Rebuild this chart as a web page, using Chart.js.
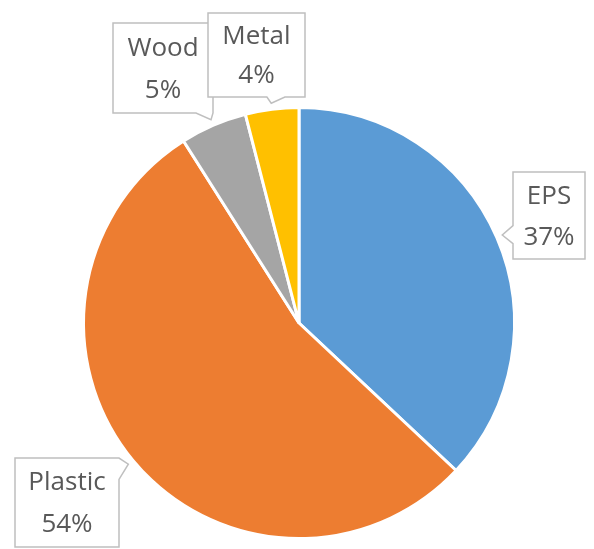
<!DOCTYPE html>
<html lang="en">
<head>
    <meta charset="UTF-8">
    <title>Material share</title>
    <script src="https://cdn.jsdelivr.net/npm/chart.js"></script>
    <style>
        * { margin: 0; padding: 0; box-sizing: border-box; }
        body { background: #fff; width: 594px; height: 549px; overflow: hidden; }
        #wrap { position: relative; width: 594px; height: 549px; }
    </style>
</head>
<body>
    <div id="wrap"><canvas id="pieChart" width="594" height="549"></canvas></div>

    <script>
        // Materials and their share (%)
        var materials = ['EPS', 'Plastic', 'Wood', 'Metal'];
        var shares = [37, 54, 5, 4];
        var sliceColors = ['#5B9BD5', '#ED7D31', '#A5A5A5', '#FFC000'];

        // Callout boxes: box rectangle plus which side the pointer leaves from
        var callouts = [
            { box: [513, 172, 72, 87], side: 'left',   at: 0.72 },
            { box: [15, 458, 104, 89], side: 'right',  at: 0.05 },
            { box: [113, 23, 100, 90], side: 'bottom', at: 0.92 },
            { box: [208, 13, 97, 84],  side: 'bottom', at: 0.70 }
        ];

        var calloutPlugin = {
            id: 'callouts',
            afterDraw: function (chart) {
                var ctx = chart.ctx;
                var meta = chart.getDatasetMeta(0);
                ctx.save();
                meta.data.forEach(function (arc, i) {
                    var c = callouts[i];
                    var x = c.box[0], y = c.box[1], w = c.box[2], h = c.box[3];
                    // tip of the pointer sits just outside the slice edge
                    var mid = (arc.startAngle + arc.endAngle) / 2;
                    var r = arc.outerRadius + 6;
                    var tx = arc.x + Math.cos(mid) * r;
                    var ty = arc.y + Math.sin(mid) * r;
                    var s = 9;
                    ctx.beginPath();
                    if (c.side === 'left') {
                        var py = y + h * c.at;
                        ctx.moveTo(x, y);
                        ctx.lineTo(x + w, y);
                        ctx.lineTo(x + w, y + h);
                        ctx.lineTo(x, y + h);
                        ctx.lineTo(x, py + s);
                        ctx.lineTo(tx, ty);
                        ctx.lineTo(x, py - s);
                    } else if (c.side === 'right') {
                        var py2 = y + h * c.at;
                        ctx.moveTo(x, y);
                        ctx.lineTo(x + w, y);
                        ctx.lineTo(tx, ty);
                        ctx.lineTo(x + w, py2 + s + 8);
                        ctx.lineTo(x + w, y + h);
                        ctx.lineTo(x, y + h);
                    } else {
                        var px = x + w * c.at;
                        ctx.moveTo(x, y);
                        ctx.lineTo(x + w, y);
                        ctx.lineTo(x + w, y + h);
                        ctx.lineTo(Math.min(px + s, x + w), y + h);
                        ctx.lineTo(tx, ty);
                        ctx.lineTo(px - s, y + h);
                        ctx.lineTo(x, y + h);
                    }
                    ctx.closePath();
                    ctx.fillStyle = '#fff';
                    ctx.fill();
                    ctx.strokeStyle = '#BFBFBF';
                    ctx.lineWidth = 1.5;
                    ctx.stroke();

                    ctx.fillStyle = '#595959';
                    ctx.font = '26px "Open Sans", sans-serif';
                    ctx.textAlign = 'center';
                    ctx.textBaseline = 'middle';
                    ctx.fillText(chart.data.labels[i], x + w / 2, y + h * 0.28);
                    ctx.fillText(chart.data.datasets[0].data[i] + '%', x + w / 2, y + h * 0.75);
                });
                ctx.restore();
            }
        };

        var ctx = document.getElementById('pieChart').getContext('2d');
        var pieChart = new Chart(ctx, {
            type: 'pie',
            data: {
                labels: materials,
                datasets: [{
                    data: shares,
                    backgroundColor: sliceColors,
                    borderColor: '#ffffff',
                    borderWidth: 3
                }]
            },
            options: {
                responsive: false,
                animation: false,
                layout: { padding: { left: 82, right: 78, top: 106, bottom: 9 } },
                plugins: {
                    legend: { display: false },
                    tooltip: { enabled: false }
                }
            },
            plugins: [calloutPlugin]
        });
    </script>
</body>
</html>
